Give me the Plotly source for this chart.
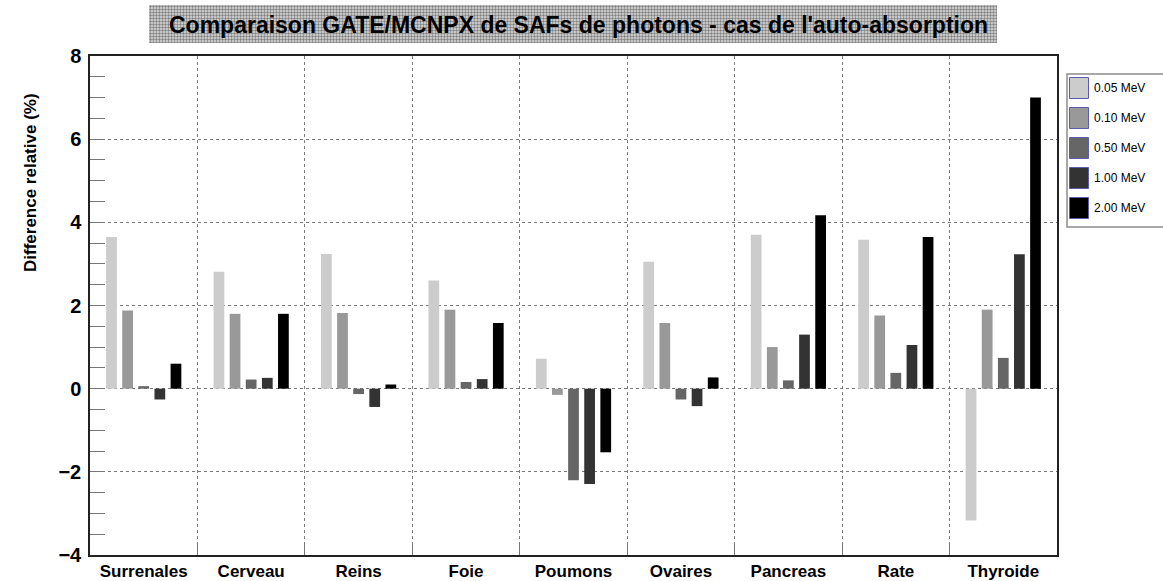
import plotly.graph_objects as go

# Organs and relative GATE/MCNPX differences (%) per photon energy
organs = ["Surrenales", "Cerveau", "Reins", "Foie", "Poumons",
          "Ovaires", "Pancreas", "Rate", "Thyroide"]
energies = ["0.05 MeV", "0.10 MeV", "0.50 MeV", "1.00 MeV", "2.00 MeV"]
diff_005 = [3.65, 2.81, 3.24, 2.60, 0.72, 3.05, 3.70, 3.58, -3.17]
diff_010 = [1.88, 1.80, 1.82, 1.90, -0.15, 1.58, 1.00, 1.76, 1.90]
diff_050 = [0.06, 0.22, -0.13, 0.16, -2.20, -0.26, 0.20, 0.38, 0.74]
diff_100 = [-0.26, 0.26, -0.44, 0.23, -2.29, -0.42, 1.30, 1.05, 3.23]
diff_200 = [0.60, 1.80, 0.10, 1.58, -1.53, 0.27, 4.17, 3.65, 7.00]
series = [diff_005, diff_010, diff_050, diff_100, diff_200]
colors = ["#cccccc", "#999999", "#666666", "#333333", "#000000"]

W, H = 1163, 581
FONT = "Liberation Sans, Arial, Helvetica, sans-serif"


def px(x):
    return x / W


def py(y):
    return (H - y) / H


fig = go.Figure()
for name, vals, col in zip(energies, series, colors):
    fig.add_trace(go.Bar(
        x=organs, y=vals, name=name, marker=dict(color=col, line=dict(width=0)),
        showlegend=False, xaxis="x", yaxis="y",
    ))

# Patterned title box drawn as a single bar on its own axes
fig.add_trace(go.Bar(
    x=[0.5], y=[1], width=[1], xaxis="x2", yaxis="y2", showlegend=False,
    hoverinfo="skip",
    marker=dict(color="#d0d0d0", line=dict(width=0),
                pattern=dict(shape=".", size=3, solidity=0.5,
                             fgcolor="#808080", bgcolor="#dedede", fillmode="replace")),
))

grid = dict(showgrid=True, gridcolor="#7a7a7a", gridwidth=1, griddash="dot")

fig.update_layout(
    width=W, height=H,
    margin=dict(l=0, r=0, t=0, b=0, autoexpand=False),
    paper_bgcolor="white", plot_bgcolor="white",
    barmode="group", bargap=0.25, bargroupgap=1 / 3,
    showlegend=False,
    font=dict(family=FONT, color="black"),
    xaxis=dict(
        domain=[px(90), px(1057)], anchor="y", automargin=False,
        type="category", tickson="boundaries",
        ticks="inside", ticklen=12, tickcolor="#777", tickwidth=1,
        showline=True, mirror=True, linecolor="#222", linewidth=1.5,
        tickfont=dict(size=17, family=FONT, weight="bold"),
        ticklabelstandoff=0,
        **grid,
    ),
    yaxis=dict(
        domain=[py(555), py(56)], anchor="x", automargin=False,
        range=[-4, 8], tickvals=[-4, -2, 0, 2, 4, 6, 8],
        ticks="inside", ticklen=15, tickcolor="#777", tickwidth=1,
        minor=dict(dtick=0.5, ticks="inside", ticklen=15, tickcolor="#777",
                   tickwidth=1, showgrid=False),
        showline=True, mirror=True, linecolor="#222", linewidth=1.5,
        zeroline=False,
        tickfont=dict(size=20, family=FONT, weight="bold"),
        ticklabelstandoff=3,
        **grid,
    ),
    xaxis2=dict(domain=[px(149), px(997)], anchor="y2", range=[0, 1],
                visible=False, fixedrange=True, automargin=False),
    yaxis2=dict(domain=[py(43), py(5)], anchor="x2", range=[0, 1],
                visible=False, fixedrange=True, automargin=False),
)

annotations = [
    dict(text="Comparaison GATE/MCNPX de SAFs de photons - cas de l'auto-absorption",
         x=px(578), y=py(25), xref="paper", yref="paper",
         showarrow=False, xanchor="center", yanchor="middle",
         font=dict(size=23, family=FONT, weight="bold", color="black")),
    dict(text="Difference relative (%)",
         x=px(30), y=py(183), xref="paper", yref="paper", textangle=-90,
         showarrow=False, xanchor="center", yanchor="middle",
         font=dict(size=17, family=FONT, weight="bold", color="black")),
]

# Legend box with swatches
shapes = [dict(type="rect", xref="paper", yref="paper",
               x0=px(1067), x1=px(1175), y0=py(227), y1=py(74),
               line=dict(color="#8c8c8c", width=1.5), fillcolor="white", layer="above")]
for i, (name, col) in enumerate(zip(energies, colors)):
    yc = 88 + 30 * i
    shapes.append(dict(type="rect", xref="paper", yref="paper",
                       x0=px(1069.5), x1=px(1088.5), y0=py(yc + 10.5), y1=py(yc - 10.5),
                       line=dict(color="#5c5cae", width=1), fillcolor=col, layer="above"))
    annotations.append(dict(text=name, x=px(1092), y=py(yc), xref="paper", yref="paper",
                            showarrow=False, xanchor="left", yanchor="middle",
                            font=dict(size=12, family=FONT, color="black")))

fig.update_layout(shapes=shapes, annotations=annotations)

fig.write_html("out.html")
